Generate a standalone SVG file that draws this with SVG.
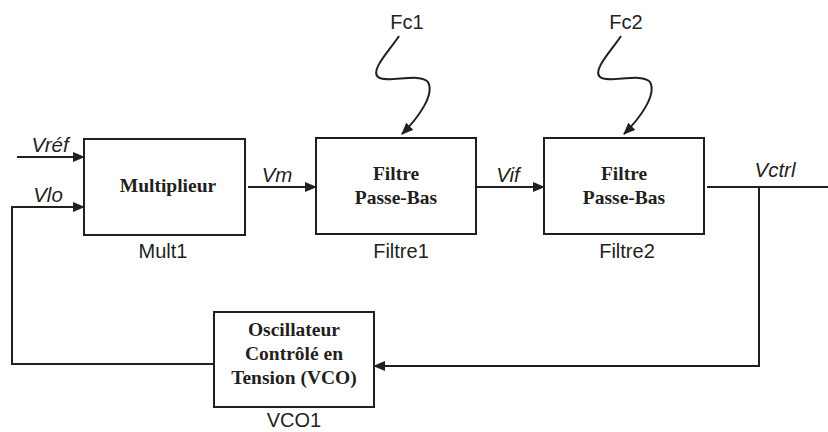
<svg xmlns="http://www.w3.org/2000/svg" width="828" height="432" viewBox="0 0 828 432">
<style>
.box{fill:#fff;stroke:#231f20;stroke-width:2}
.ln{fill:none;stroke:#231f20;stroke-width:2}
.bt{font-family:"Liberation Serif",serif;font-weight:bold;font-size:19.5px;fill:#231f20;text-anchor:middle}
.lb{font-family:"Liberation Sans",sans-serif;font-size:20px;fill:#231f20;text-anchor:middle}
.it{font-family:"Liberation Sans",sans-serif;font-style:italic;font-size:20.5px;fill:#231f20;text-anchor:middle}
</style>
<defs>
<marker id="ar" markerWidth="12" markerHeight="10" refX="11" refY="5" orient="auto" markerUnits="userSpaceOnUse">
<path d="M0,0 L12,5 L0,10 Z" fill="#231f20"/>
</marker>
</defs>
<g id="connectors">
<line class="ln" x1="17" y1="157" x2="84" y2="157" marker-end="url(#ar)"/>
<polyline class="ln" points="12,363 12,207 84,207" marker-end="url(#ar)"/>
<line class="ln" x1="248" y1="187" x2="316" y2="187" marker-end="url(#ar)"/>
<line class="ln" x1="476" y1="187" x2="544" y2="187" marker-end="url(#ar)"/>
<line class="ln" x1="707" y1="187" x2="828" y2="187"/>
<polyline class="ln" points="759,187 759,366 374,366" marker-end="url(#ar)"/>
<line class="ln" x1="214" y1="364" x2="11" y2="364"/>
<path class="ln" d="M399,36 C390,50 370,70 378,77 C386,84 420,72 428,82 C435,95 418,118 402,134" marker-end="url(#ar)"/>
<path class="ln" d="M621,36 C612,50 592,70 600,77 C608,84 642,72 650,82 C657,95 640,118 624,134" marker-end="url(#ar)"/>
</g>
<g id="Mult1">
<rect class="box" x="84" y="139" width="161" height="96"/>
<text class="bt" x="168" y="192">Multiplieur</text>
<text class="lb" x="163" y="258">Mult1</text>
</g>
<g id="Filtre1">
<rect class="box" x="316" y="138" width="160" height="96"/>
<text class="bt" x="396" y="180">Filtre</text>
<text class="bt" x="396" y="204">Passe-Bas</text>
<text class="lb" x="401" y="258">Filtre1</text>
</g>
<g id="Filtre2">
<rect class="box" x="544" y="138" width="160" height="96"/>
<text class="bt" x="624" y="180">Filtre</text>
<text class="bt" x="624" y="204">Passe-Bas</text>
<text class="lb" x="627" y="258">Filtre2</text>
</g>
<g id="VCO1">
<rect class="box" x="214" y="312" width="160" height="95"/>
<text class="bt" x="294" y="336">Oscillateur</text>
<text class="bt" x="294" y="360">Contrôlé en</text>
<text class="bt" x="294" y="384">Tension (VCO)</text>
<text class="lb" x="294" y="427">VCO1</text>
</g>
<g id="labels">
<text class="it" x="50" y="152">Vréf</text>
<text class="it" x="48" y="202">Vlo</text>
<text class="it" x="277" y="182">Vm</text>
<text class="it" x="508" y="182">Vif</text>
<text class="it" x="775" y="177">Vctrl</text>
<text class="lb" x="407" y="29">Fc1</text>
<text class="lb" x="626" y="29">Fc2</text>
</g>
</svg>
